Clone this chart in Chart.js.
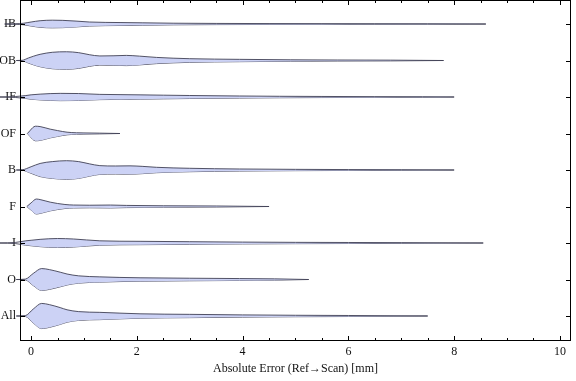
<!DOCTYPE html>
<html><head><meta charset="utf-8">
<script src="https://cdn.jsdelivr.net/npm/chart.js@4/dist/chart.umd.min.js"></script>
<style>html,body{margin:0;padding:0;background:#fff;}#wrap{width:576px;height:381px;}</style>
</head><body><div id="wrap"><canvas id="c" width="576" height="381"></canvas></div>
<script>
const categories = ["IB","OB","IF","OF","B","F","I","O","All"];
const xTicks = [0,2,4,6,8,10];
const axisTitle = "Absolute Error (Ref\u2192Scan) [mm]";

// violin profiles: error values (mm) and half-widths (in category spacing units)
const ibX = [-0.5,-0.3,-0.15,0,0.17,0.4,0.6,0.85,1.1,1.7,2.1,2.7,3.5,4.5,5.5,6.5,7.5,8.6];
const ibW = [0,0.006,0.02,0.055,0.09,0.105,0.1,0.08,0.055,0.04,0.033,0.022,0.016,0.012,0.01,0.008,0.006,0];
const obX = [-0.28,-0.17,-0.05,0.05,0.17,0.4,0.67,0.9,1.1,1.3,1.55,1.8,2.05,2.37,3.0,3.94,4.9,5.8,6.8,7.8];
const obW = [0,0.005,0.07,0.12,0.17,0.225,0.24,0.215,0.16,0.125,0.13,0.14,0.12,0.085,0.05,0.032,0.02,0.014,0.01,0];
const ifX = [-0.6,-0.3,-0.1,0,0.17,0.55,0.9,1.3,1.7,2.06,2.5,3.0,3.94,4.7,5.5,6.5,7.4,8.0];
const ifW = [0,0.012,0.04,0.06,0.079,0.1,0.095,0.072,0.065,0.059,0.05,0.041,0.028,0.02,0.015,0.01,0.007,0];
const ofX = [-0.07,-0.02,0.03,0.08,0.17,0.36,0.5,0.68,0.86,1.0,1.3,1.68];
const ofW = [0,0.08,0.16,0.2,0.19,0.12,0.08,0.036,0.02,0.016,0.01,0];
const bX = [-0.28,-0.17,0,0.17,0.4,0.67,0.9,1.1,1.3,1.6,1.87,2.1,2.37,3.0,3.94,5.0,6.0,7.0,8.0];
const bW = [0,0.005,0.09,0.18,0.23,0.255,0.23,0.17,0.12,0.11,0.114,0.1,0.074,0.047,0.028,0.018,0.012,0.008,0];
const fX = [-0.08,0,0.1,0.17,0.36,0.64,0.8,1.1,1.5,1.8,2.5,3.5,4.5];
const fW = [0,0.1,0.205,0.19,0.12,0.055,0.04,0.035,0.04,0.03,0.02,0.014,0];
const iX = [-0.6,-0.3,-0.1,0,0.17,0.5,0.8,1.3,2.06,3.0,4.0,5.0,6.0,7.0,8.55];
const iW = [0,0.015,0.06,0.075,0.1,0.123,0.11,0.06,0.046,0.036,0.025,0.018,0.014,0.01,0];
const oX = [-0.28,-0.11,0.04,0.2,0.35,0.55,0.68,0.9,1.3,2.06,3.0,3.94,4.6,5.25];
const oW = [0,0.01,0.165,0.3,0.27,0.2,0.15,0.1,0.072,0.047,0.035,0.026,0.018,0];
const allX = [-0.28,-0.11,0.04,0.2,0.35,0.55,0.68,0.9,1.3,2.06,3.0,4.0,5.0,6.0,7.5];
const allW = [0,0.01,0.19,0.345,0.31,0.23,0.17,0.12,0.1,0.06,0.045,0.03,0.02,0.014,0];

const profiles = [[ibX,ibW],[obX,obW],[ifX,ifW],[ofX,ofW],[bX,bW],[fX,fW],[iX,iW],[oX,oW],[allX,allW]];

const FILL = 'rgb(204,210,245)';
const EDGE = 'rgba(65,65,85,0.9)';
const FONT = {family: "'Liberation Serif','DejaVu Serif',serif", size: 12};

const datasets = [];
profiles.forEach(([xs, ws], i) => {
  datasets.push({
    label: categories[i] + ' upper',
    data: xs.map((x, k) => ({x: x, y: i - ws[k]})),
    fill: '+1', backgroundColor: FILL, borderColor: EDGE, borderWidth: 1,
    pointRadius: 0, cubicInterpolationMode: 'monotone', clip: false
  });
  datasets.push({
    label: categories[i] + ' lower',
    data: xs.map((x, k) => ({x: x, y: i + ws[k]})),
    fill: false, borderColor: EDGE, borderWidth: 1,
    pointRadius: 0, cubicInterpolationMode: 'monotone', clip: false
  });
});

const framePlugin = {
  id: 'frame',
  afterDraw(chart) {
    const {ctx, chartArea: a, scales: {x, y}} = chart;
    ctx.save();
    ctx.strokeStyle = '#000';
    ctx.lineWidth = 1;
    ctx.strokeRect(a.left + 0.5, a.top + 0.5, a.right - a.left - 1, a.bottom - a.top - 1);
    ctx.beginPath();
    for (let v = 0; v <= 10.001; v += 0.5) {
      const px = Math.round(x.getPixelForValue(v)) + 0.5;
      const len = (Math.abs(v / 2 - Math.round(v / 2)) < 1e-6) ? 5 : 3;
      ctx.moveTo(px, a.bottom); ctx.lineTo(px, a.bottom - len);
      ctx.moveTo(px, a.top); ctx.lineTo(px, a.top + len);
    }
    categories.forEach((c, i) => {
      const py = Math.round(y.getPixelForValue(i)) + 0.5;
      ctx.moveTo(a.left, py); ctx.lineTo(a.left + 5, py);
      ctx.moveTo(a.right, py); ctx.lineTo(a.right - 5, py);
    });
    ctx.stroke();
    ctx.restore();
  }
};

new Chart(document.getElementById('c'), {
  type: 'line',
  data: {datasets},
  options: {
    responsive: false, animation: false, devicePixelRatio: 1,
    layout: {padding: {top: 0, right: 5, left: 0, bottom: 0}},
    plugins: {legend: {display: false}, tooltip: {enabled: false}},
    scales: {
      x: {
        type: 'linear', bounds: 'data',
        afterDataLimits: s => { s.min = -0.21; s.max = 10.21; },
        afterBuildTicks: s => { s.ticks = xTicks.map(v => ({value: v})); },
        afterFit: s => { s.height = 40; s.paddingLeft = 0; s.paddingRight = 0; },
        grid: {display: false, drawTicks: false},
        border: {display: false},
        ticks: {font: FONT, color: '#111', padding: 4, maxRotation: 0, autoSkip: false},
        title: {display: true, text: axisTitle, font: FONT, color: '#111', padding: {top: 0, bottom: 5}}
      },
      y: {
        type: 'linear', reverse: true, min: -0.658, max: 8.685,
        afterBuildTicks: s => { s.ticks = categories.map((c, i) => ({value: i})); },
        afterFit: s => { s.width = 20; s.paddingTop = 0; s.paddingBottom = 0; },
        grid: {display: false, drawTicks: false},
        border: {display: false},
        ticks: {font: FONT, color: '#111', padding: 4, autoSkip: false,
          callback: v => categories[Math.round(v)]}
      }
    }
  },
  plugins: [framePlugin]
});
</script>
</body></html>
